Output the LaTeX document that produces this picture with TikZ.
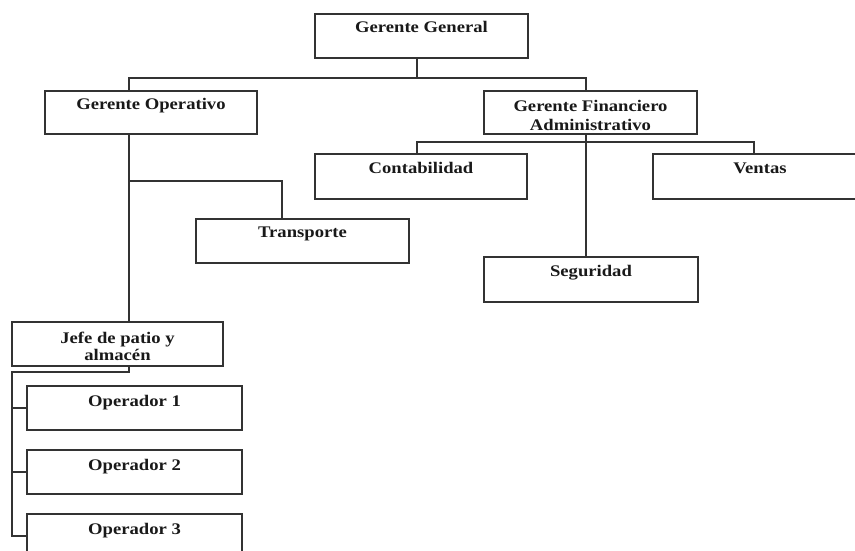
\documentclass[tikz,border=0pt]{standalone}
\usepackage{fontspec}
\setmainfont{Liberation Serif}
\newcommand{\sxt}[1]{\scalebox{1.15}[1]{#1}}
\begin{document}
\begin{tikzpicture}[x=1pt,y=-1pt,
  box/.style={draw=black!80, line width=1.1pt, rectangle, inner sep=0pt, fill=white},
  lbl/.style={anchor=base, inner sep=0pt, font=\bfseries\fontsize{16.2}{16}\selectfont, align=center, text=black!90},
  lbln/.style={anchor=north, inner sep=0pt, font=\bfseries\fontsize{16.2}{16}\selectfont, align=center, text=black!90},
  conn/.style={draw=black!80, line width=1.1pt}]
\clip (0,0) rectangle (855,551);
\fill[white] (0,0) rectangle (855,551);
% boxes
\node[box, minimum width=213pt, minimum height=44pt] (gg) at (421.5,36) {};
\node[box, minimum width=212pt, minimum height=43pt] (op) at (151,112.5) {};
\node[box, minimum width=213pt, minimum height=43pt] (fin) at (590.5,112.5) {};
\node[box, minimum width=212pt, minimum height=45pt] (cont) at (421,176.5) {};
\node[box, minimum width=214pt, minimum height=45pt] (ven) at (760,176.5) {};
\node[box, minimum width=213pt, minimum height=44pt] (tr) at (302.5,241) {};
\node[box, minimum width=214pt, minimum height=45pt] (seg) at (591,279.5) {};
\node[box, minimum width=211pt, minimum height=44pt] (jefe) at (117.5,344) {};
\node[box, minimum width=215pt, minimum height=44pt] (o1) at (134.5,408) {};
\node[box, minimum width=215pt, minimum height=44pt] (o2) at (134.5,472) {};
\node[box, minimum width=215pt, minimum height=44pt] (o3) at (134.5,536) {};
% labels
\node[lbl] (ggt) at ([yshift=-19pt]gg.north) {\sxt{Gerente General}};
\node[lbl] (opt) at ([yshift=-19.5pt]op.north) {\sxt{Gerente Operativo}};
\node[lbln] (fint) at ([yshift=-10pt]fin.north) {\sxt{Gerente Financiero}\\[2.5pt]\sxt{Administrativo}};
\node[lbl] (contt) at ([yshift=-20pt]cont.north) {\sxt{Contabilidad}};
\node[lbl] (vent) at ([yshift=-20pt]ven.north) {\sxt{Ventas}};
\node[lbl] (trt) at ([yshift=-19.5pt]tr.north) {\sxt{Transporte}};
\node[lbl] (segt) at ([yshift=-20pt]seg.north) {\sxt{Seguridad}};
\node[lbln] (jefet) at ([yshift=-10pt]jefe.north) {\sxt{Jefe de patio y}\\[1pt]\sxt{almacén}};
\node[lbl] (o1t) at ([yshift=-21pt]o1.north) {\sxt{Operador 1}};
\node[lbl] (o2t) at ([yshift=-21pt]o2.north) {\sxt{Operador 2}};
\node[lbl] (o3t) at ([yshift=-21pt]o3.north) {\sxt{Operador 3}};
% connectors
\coordinate (t1) at (417,78);
\coordinate (b1l) at (129,78);
\coordinate (b1r) at (586,78);
\draw[conn] (gg.south -| t1) -- (t1);
\draw[conn] (op.north -| b1l) -- (b1l) -- (b1r) -- (fin.north -| b1r);
\draw[conn] (op.south -| b1l) -- (jefe.north -| b1l);
\coordinate (b2) at (129,181);
\coordinate (b2r) at (282,181);
\draw[conn] (b2) -- (b2r) -- (tr.north -| b2r);
\draw[conn] (fin.south -| b1r) -- (seg.north -| b1r);
\coordinate (b3l) at (417,142);
\coordinate (b3r) at (754,142);
\draw[conn] (cont.north -| b3l) -- (b3l) -- (b3r) -- (ven.north -| b3r);
\coordinate (b4) at (129,372);
\coordinate (b4l) at (12,372);
\draw[conn] (jefe.south -| b4) -- (b4) -- (b4l) -- (b4l |- o3.west) -- (o3.west);
\draw[conn] (b4l |- o1.west) -- (o1.west);
\draw[conn] (b4l |- o2.west) -- (o2.west);
\end{tikzpicture}
\end{document}
